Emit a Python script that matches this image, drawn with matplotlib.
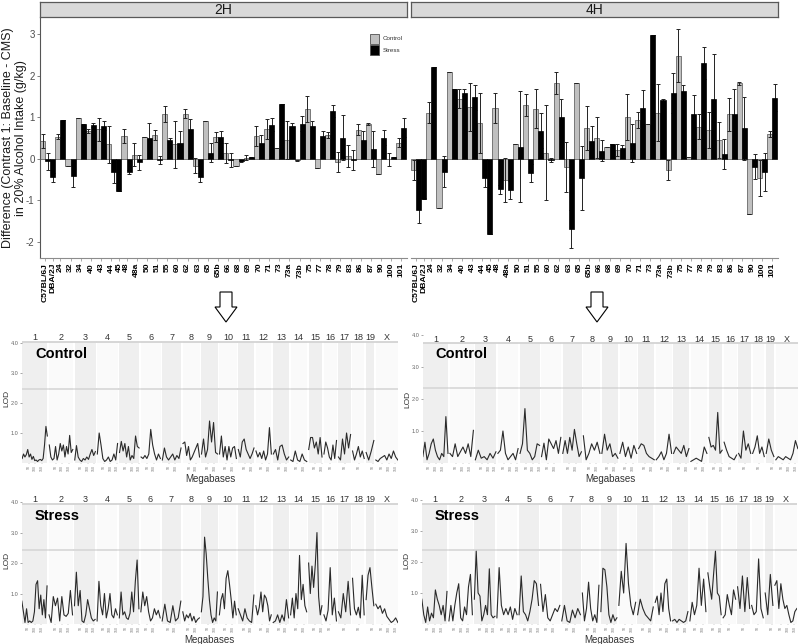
import numpy as np
import matplotlib
matplotlib.use('Agg')
import matplotlib.pyplot as plt
from matplotlib.patches import Rectangle, Polygon

plt.rcParams['font.family'] = ['Liberation Sans', 'DejaVu Sans']

W, H = 800, 644
nan = np.nan

# ---- top panel: contrast per strain ----
strains = ['C57BL/6J', 'DBA/2J', '24', '32', '34', '40', '43', '44', '45', '48', '48a',
           '50', '51', '55', '60', '62', '63', '65', '65b', '66', '68', '69', '70', '71',
           '73', '73a', '73b', '75', '77', '78', '79', '83', '86', '87', '90', '100', '101']

ctrl_2h = [0.43, nan, 0.53, -0.18, 0.97, 0.67, 0.71, 0.35, nan, 0.55, 0.10, 0.53, 0.57, 1.07,
           0.35, 1.09, -0.17, 0.90, 0.53, 0.13, -0.18, 0.03, 0.55, 0.72, 0.25, 0.46, -0.04,
           1.19, -0.22, 0.57, -0.08, 0.07, 0.70, 0.84, -0.36, -0.01, 0.39]
ctrl_2h_se = [0.17, nan, 0.06, 0, 0, 0.05, 0.28, 0.45, nan, 0.17, 0.28, 0, 0.13, 0.19, 0.57,
              0.10, 0.18, 0, 0.12, 0.24, 0, 0.07, 0.24, 0.24, 0, 0.46, 0.02, 0.31, 0, 0.07,
              0.24, 0.27, 0.13, 0.03, 0, 0.16, 0.10]
stress_2h = [-0.06, -0.45, 0.93, -0.42, 0.84, 0.81, 0.80, -0.33, -0.78, -0.31, -0.09, 0.50,
             -0.03, 0.46, 0.39, 0.72, -0.45, 0.15, 0.52, -0.02, -0.06, 0.04, 0.38, 0.82, 1.32,
             0.79, 0.84, 0.80, 0.56, 1.15, 0.51, -0.03, 0.44, 0.24, 0.51, 0.05, 0.75]
stress_2h_se = [0.21, 0.11, 0, 0.27, 0, 0.05, 0.11, 0.25, 0, 0.05, 0.17, 0.37, 0.10, 0.05,
                0.27, 0.24, 0.10, 0.23, 0.15, 0.17, 0.01, 0.01, 0.20, 0.15, 0, 0.07, 0.18,
                0.12, 0.10, 0.14, 0.54, 0.23, 0.24, 0.43, 0.19, 0.0, 0.23]

ctrl_4h = [-0.26, nan, 1.11, -1.19, 2.10, 1.45, 1.25, 0.87, nan, 1.23, -0.51, 0.35, 1.29, 1.21,
           0.15, 1.82, -0.19, 1.82, 0.75, 0.51, 0.29, 0.21, 1.01, 0.93, 0.84, 1.11, -0.27,
           2.48, 0.05, 0.77, 0.69, 0.45, 1.07, 1.82, -1.32, -0.47, 0.59]
ctrl_4h_se = [0.24, nan, 0.25, 0, 0, 0.22, 0.57, 0.72, nan, 0.36, 0.52, 0, 0.26, 0.48, 1.15,
              0.26, 0.6, 0, 0.53, 0.49, 0, 0.15, 0.56, 0.2, 0, 0.68, 0.25, 0.64, 0, 0.3,
              0.44, 0.43, 0.4, 0.04, 0, 0.43, 0.07]
stress_4h = [-1.24, -0.96, 2.22, -0.31, 1.67, 1.59, 1.48, -0.47, -1.81, -0.74, -0.76, 0.29,
             -0.34, 0.68, -0.03, 1.00, -1.70, -0.47, 0.43, 0.19, 0.35, 0.27, 0.37, 1.23, 2.97,
             1.41, 1.58, 1.62, 1.07, 2.30, 1.44, 0.11, 1.07, 0.73, -0.19, -0.31, 1.47]
stress_4h_se = [0.30, 0.02, 0, 0.38, 0, 0.08, 0.3, 0.21, 0, 0.12, 0.22, 1.34, 0.21, 0.43,
                0.05, 0.43, 0.46, 0.77, 0.36, 0.25, 0, 0.06, 0.46, 0.43, 0, 0.04, 0.48, 0.16,
                0.46, 0.39, 1.08, 0.36, 0.6, 0.75, 0.3, 0.46, 0.32]

y_ticks = [-2, -1, 0, 1, 2, 3]

# ---- bottom panels: genome scans ----
chroms = ['1', '2', '3', '4', '5', '6', '7', '8', '9', '10', '11', '12', '13', '14', '15',
          '16', '17', '18', '19', 'X']
chrom_mb = [195, 182, 160, 157, 152, 150, 145, 129, 125, 131, 122, 120, 120, 125, 104, 98,
            95, 91, 61, 171]

lod_ctrl_2h = [
    [0.15, 0.3, 0.2, 0.28, 0.45, 0.2, 0.3, 0.12, 0.22, 0.08, 0.1, 0.05, 0.1, 0.12, 0.08, 0.15, 0.6, 1.22, 0.9],
    [0.6, 0.2, 0.1, 0.15, 0.55, 0.1, 0.3, 0.65, 0.4, 0.6, 0.2, 0.55, 0.3, 0.92, 0.35, 0.45],
    [0.1, 0.58, 0.2, 0.1, 0.05, 0.15, 0.1, 0.2, 0.12, 0.3, 0.45, 0.25, 0.38],
    [0.3, 1.0, 0.6, 0.15, 0.05, 0.1, 0.2, 0.05, 0.1, 0.3, 0.1, 0.65],
    [0.35, 0.72, 0.4, 0.65, 0.2, 0.55, 0.1, 0.25, 0.15, 0.9, 0.55, 0.5],
    [0.2, 0.15, 0.25, 0.15, 0.3, 1.12, 0.6, 0.3, 0.1, 0.3, 0.15],
    [0.1, 0.5, 0.2, 0.1, 0.2, 0.3, 0.1, 0.25, 0.15, 0.5],
    [0.65, 0.7, 0.25, 0.55, 0.1, 0.2, 0.35, 0.5, 0.65, 0.2],
    [0.3, 0.8, 0.2, 0.45, 1.4, 0.7, 1.35, 0.35, 0.3],
    [0.3, 0.9, 0.2, 0.55, 0.1, 0.55, 0.2, 0.5, 0.55, 0.15],
    [0.45, 0.2, 0.7, 0.8, 0.45, 0.3, 0.15, 0.3, 0.5],
    [0.4, 0.2, 0.35, 0.15, 0.4, 0.1, 0.3, 1.18, 0.3],
    [0.3, 0.45, 0.1, 0.55, 0.6, 0.3, 0.1, 0.2],
    [0.1, 0.05, 0.4, 0.1, 0.05, 0.3, 0.1, 0.05],
    [0.45, 0.85, 0.85, 0.5, 0.7, 0.3, 0.85, 0.2],
    [0.3, 0.7, 0.5, 0.2, 0.1, 0.6, 0.15, 0.75],
    [0.2, 0.1, 0.8, 0.3, 1.0, 0.5, 0.95],
    [0.4, 0.1, 0.3, 0.55, 0.2, 0.4, 0.15],
    [0.35, 0.1, 0.4, 0.75],
    [0.1, 0.05, 0.15, 0.2, 0.25, 0.1, 0.3, 0.15, 0.4, 0.2, 0.1],
]
lod_ctrl_4h = [
    [0.2, 0.65, 0.1, 0.3, 0.6, 0.75, 0.4, 0.2, 0.1, 0.3, 0.2, 1.45, 0.3],
    [0.3, 0.2, 0.6, 0.2, 0.35, 0.5, 0.3, 0.6, 0.2, 1.02],
    [0.1, 0.4, 0.15, 0.2, 0.1, 0.3, 0.15, 0.35],
    [0.3, 0.4, 1.0, 0.3, 0.1, 0.2, 0.3, 0.1, 0.45],
    [0.3, 0.6, 1.7, 0.4, 0.3, 0.1, 0.2, 0.6, 0.55],
    [0.2, 0.62, 0.1, 0.75, 0.6, 0.45, 0.7, 0.3, 0.8],
    [0.3, 0.7, 0.3, 0.8, 0.4, 1.05, 0.6, 0.2, 0.35],
    [0.85, 0.1, 0.3, 0.6, 0.4, 0.65, 0.3],
    [0.3, 0.9, 0.4, 0.6, 0.2, 0.3, 0.15],
    [0.3, 0.65, 0.2, 0.5, 0.15, 0.55, 0.3],
    [0.45, 0.6, 0.55, 0.3, 0.2, 0.15, 0.1],
    [0.1, 0.2, 0.35, 0.1, 0.3, 0.9, 0.3],
    [0.3, 0.5, 0.4, 0.3, 0.55, 0.2, 0.45],
    [0.05, 0.1, 0.15, 0.1, 0.05, 0.5, 0.3],
    [0.8, 0.5, 0.55, 0.4, 1.58, 0.3, 0.4],
    [0.65, 0.4, 0.2, 0.15, 0.1, 0.25],
    [0.3, 0.15, 1.0, 0.4, 0.6, 0.3],
    [0.3, 0.5, 0.85, 0.3, 0.5, 0.2],
    [0.3, 0.75, 0.4, 0.2],
    [0.1, 0.2, 0.15, 0.1, 0.2, 0.15, 0.1, 0.3, 0.7, 0.45],
]
lod_stress_2h = [
    [0.75, 0.4, 0.05, 0.5, 0.05, 0.1, 0.05, 0.1, 0.4, 1.3, 1.42, 0.5, 0.95, 0.3, 0.8, 0.2, 1.25],
    [0.3, 0.05, 0.9, 0.6, 0.85, 0.1, 0.9, 0.3, 0.25, 0.35, 1.1, 0.3],
    [0.6, 1.7, 0.6, 1.1, 0.1, 0.05, 0.3, 0.8, 0.5, 0.2, 0.1, 0.15],
    [0.1, 1.4, 0.6, 0.3, 1.0, 0.2, 0.5, 1.0, 0.3, 0.2, 0.5, 0.3],
    [0.2, 1.05, 0.3, 0.4, 0.2, 0.15, 0.35, 1.05, 0.4, 1.4, 2.1, 0.5],
    [0.4, 1.05, 0.6, 0.9, 0.4, 0.1, 0.2, 0.5, 0.3, 0.45, 0.2],
    [0.1, 0.65, 0.1, 0.05, 0.6, 0.1, 0.2, 0.75],
    [0.4, 0.1, 0.3, 0.2, 0.35, 0.1, 0.25, 0.05, 0.15, 0.2],
    [0.4, 0.9, 2.85, 2.3, 1.5, 0.8, 0.3, 0.05, 0.2, 0.1, 1.05],
    [0.3, 0.8, 1.0, 0.5, 1.5, 1.75, 1.3, 0.8, 0.2, 0.75, 0.3],
    [0.5, 0.3, 0.1, 0.5, 0.2, 0.1, 0.05, 0.95],
    [0.6, 0.3, 0.55, 1.05, 0.4, 0.95, 0.85, 0.6, 0.1, 0.3],
    [0.05, 0.1, 0.3, 0.05, 0.3, 0.1, 0.8, 0.2],
    [0.3, 0.85, 0.2, 1.0, 0.5, 2.25, 0.8, 1.3, 0.6, 0.4],
    [2.0, 1.0, 1.9, 1.2, 1.95, 3.0, 0.9, 0.3, 0.6],
    [0.3, 0.1, 0.45, 1.85, 0.3, 0.85, 0.1],
    [0.4, 0.2, 1.0, 0.4, 1.4, 0.3],
    [1.5, 0.5, 0.3, 0.55, 0.2, 1.6, 0.3],
    [0.8, 1.6, 1.85, 1.2, 0.6],
    [0.65, 0.5, 0.6, 0.35, 0.5, 0.25, 0.15, 0.05, 0.1, 0.2, 0.05],
]
lod_stress_4h = [
    [0.8, 0.3, 0.05, 0.55, 0.1, 0.35, 0.2, 1.1, 0.8, 0.6, 0.3, 0.6, 0.1, 1.05],
    [0.1, 0.6, 0.1, 0.6, 1.0, 1.3, 0.2, 0.1, 0.55, 0.3, 1.2, 1.6, 0.3],
    [0.8, 2.35, 1.0, 0.9, 0.1, 0.3, 0.6, 0.3, 1.78, 0.3, 0.2, 0.25],
    [0.2, 1.82, 0.6, 0.3, 0.5, 0.3, 0.55, 0.15, 0.5, 0.3],
    [0.3, 1.55, 0.4, 0.3, 0.1, 0.4, 0.8, 1.4, 1.3, 0.6],
    [1.28, 0.4, 0.95, 0.2, 0.1, 0.3, 0.5, 0.4, 0.6],
    [0.1, 0.6, 0.1, 0.05, 0.45, 0.2, 0.5, 0.3],
    [1.0, 0.1, 0.5, 1.35, 0.5, 0.1, 0.3, 0.05, 1.25],
    [0.4, 1.8, 1.75, 1.2, 0.3, 0.05, 0.3, 0.1, 0.2],
    [0.6, 1.7, 1.0, 2.6, 1.3, 0.6, 0.3, 0.7],
    [0.3, 0.8, 0.5, 0.3, 0.2, 0.1, 0.55],
    [0.7, 0.9, 0.3, 1.0, 0.4, 1.3, 1.45, 0.5, 0.1],
    [0.1, 0.15, 0.05, 0.15, 0.1, 0.05, 0.1, 0.4],
    [0.1, 0.7, 0.3, 0.6, 1.8, 0.6, 1.45, 0.4],
    [1.65, 1.2, 0.8, 1.6, 2.35, 1.0, 0.9, 0.3],
    [0.2, 0.3, 0.95, 0.6, 0.3, 1.1, 0.8],
    [1.2, 0.5, 1.55, 0.4, 1.5, 0.5],
    [0.6, 0.3, 0.4, 2.1, 0.5, 0.2],
    [1.0, 0.3, 1.6, 0.6],
    [1.25, 1.4, 0.5, 1.3, 0.8, 0.5, 0.6, 0.3, 0.05, 0.1, 0.4, 0.5],
]
thresholds = [2.46, 2.35, 2.43, 2.40]

fig = plt.figure(figsize=(W / 100, H / 100), dpi=100)


def add_px(x0, y0, x1, y1):
    return fig.add_axes([x0 / W, 1 - y1 / H, (x1 - x0) / W, (y1 - y0) / H])


def bar_panel(x0, x1, title, ctrl, ctrl_se, stress, stress_se, first):
    ax = add_px(x0, 18, x1, 258)
    pc, vc, ec, ps, vs, es, pl = [], [], [], [], [], [], []
    slot = 0
    for i in range(len(strains)):
        if np.isnan(ctrl[i]):
            pl.append(slot)
        else:
            pc.append(slot); vc.append(ctrl[i]); ec.append(ctrl_se[i])
            pl.append(slot + 0.5)
            slot += 1
        ps.append(slot); vs.append(stress[i]); es.append(stress_se[i])
        slot += 1
    ax.bar(pc, vc, width=1.0, color='#c0c0c0', edgecolor='#505050', linewidth=0.5, zorder=2)
    ax.bar(ps, vs, width=1.0, color='black', edgecolor='black', linewidth=0.5, zorder=2)
    ax.errorbar(pc, vc, yerr=ec, fmt='none', ecolor='#222222', elinewidth=0.7,
                capsize=1.2, capthick=0.7, zorder=3)
    ax.errorbar(ps, vs, yerr=es, fmt='none', ecolor='#222222', elinewidth=0.7,
                capsize=1.2, capthick=0.7, zorder=1)
    ax.set_xlim(-0.6, slot - 0.4)
    ax.set_ylim(-2.39, 3.39)
    ax.set_xticks(pl)
    ax.set_xticklabels(strains, rotation=90, fontsize=6.1, fontweight='bold')
    ax.tick_params(axis='x', length=2, width=0.5, color='#888888', pad=1.5)
    for s in ['top', 'right']:
        ax.spines[s].set_visible(False)
    ax.spines['bottom'].set_color('#8c8c8c')
    ax.spines['bottom'].set_linewidth(0.8)
    if first:
        ax.set_yticks(y_ticks)
        ax.set_yticklabels([str(t) for t in y_ticks], fontsize=7, color='#4d4d4d')
        ax.tick_params(axis='y', length=2, width=0.5, color='#4d4d4d', pad=1.5)
        ax.spines['left'].set_color('#555555')
        ax.spines['left'].set_linewidth(0.8)
    else:
        ax.set_yticks([])
        ax.spines['left'].set_visible(False)
    st = add_px(x0, 2, x1, 17)
    st.set_facecolor('#d9d9d9')
    st.set_xticks([]); st.set_yticks([])
    for s in st.spines.values():
        s.set_color('#595959'); s.set_linewidth(0.9)
    st.text(0.5, 0.5, title, ha='center', va='center', fontsize=10, color='#1a1a1a',
            transform=st.transAxes)
    return ax


bar_panel(39.5, 407, '2H', ctrl_2h, ctrl_2h_se, stress_2h, stress_2h_se, True)
bar_panel(410.5, 778, '4H', ctrl_4h, ctrl_4h_se, stress_4h, stress_4h_se, False)

fig.text(14.5 / W, 1 - 138 / H, 'Difference (Contrast 1: Baseline - CMS)\nin 20% Alcohol Intake (g/kg)',
         rotation=90, ha='center', va='center', fontsize=9, linespacing=1.05, color='#1a1a1a')

# legend
for k, (lab, fc) in enumerate([('Control', '#c0c0c0'), ('Stress', 'black')]):
    yy = 34 + 11 * k
    fig.add_artist(Rectangle((370 / W, 1 - (yy + 10) / H), 9 / W, 10 / H, facecolor=fc,
                             edgecolor='#505050', linewidth=0.6, transform=fig.transFigure))
    fig.text(383 / W, 1 - (yy + 5) / H, lab, fontsize=4.5, va='center', ha='left', color='#333333')

# arrows
for cx in [226, 597]:
    pts = [(cx - 6, 292), (cx + 6, 292), (cx + 6, 307), (cx + 11, 307), (cx, 322),
           (cx - 11, 307), (cx - 6, 307)]
    fig.add_artist(Polygon([(x / W, 1 - y / H) for x, y in pts], closed=True, facecolor='white',
                           edgecolor='black', linewidth=0.8, transform=fig.transFigure))

gap = 13
offsets = np.concatenate([[0], np.cumsum(np.array(chrom_mb) + gap)[:-1]])
total = offsets[-1] + chrom_mb[-1]


def lod_panel(x0, x1, ytop, yzero, ymax, lod, thr, name, name_y, mb_y):
    ax = add_px(x0, ytop, x1, yzero)
    ax.set_xlim(0, total)
    ax.set_ylim(0, ymax)
    ppu = (yzero - ytop) / ymax
    sh = 8 / ppu
    tick_pos, tick_lab = [], []
    for k, (c, L) in enumerate(zip(chroms, chrom_mb)):
        off = offsets[k]
        ax.add_patch(Rectangle((off, 0), L, ymax - sh, facecolor='#efefef' if k % 2 == 0 else '#fafafa',
                               linewidth=0, zorder=0))
        ax.add_patch(Rectangle((off, ymax - sh), L, sh, facecolor='white', linewidth=0, zorder=1))
        ax.text(off + L / 2, ymax - sh / 2, c, ha='center', va='center', fontsize=6.5,
                color='#333333', zorder=2)
        ax.plot([off, off + L], [ymax - sh] * 2, color='#d6d6d6', linewidth=1.4, zorder=1)
        ax.plot([off, off + L], [thr] * 2, color='#d6d6d6', linewidth=1.2, zorder=1)
        vals = lod[k]
        xs = np.linspace(off + 1, off + L - 1, len(vals))
        ax.plot(xs, vals, color='#2a2a2a', linewidth=0.8, zorder=3)
        for m in range(50, L, 50):
            tick_pos.append(off + m)
            tick_lab.append(str(m))
    ax.set_xticks(tick_pos)
    ax.set_xticklabels(tick_lab, fontsize=2.5, rotation=90, color='#777777')
    ax.tick_params(axis='x', length=1, width=0.3, color='#999999', pad=0.5)
    ax.set_yticks([1, 2, 3, 4])
    ax.set_yticklabels(['1.0', '2.0', '3.0', '4.0'], fontsize=4, color='#666666')
    ax.tick_params(axis='y', length=1.5, width=0.4, color='#666666', pad=1)
    for s in ax.spines.values():
        s.set_visible(False)
    fig.text((x0 - 15) / W, 1 - ((ytop + yzero) / 2) / H, 'LOD', rotation=90, fontsize=6,
             ha='center', va='center', color='#333333')
    fig.text((x0 + x1) / 2 / W, 1 - mb_y / H, 'Megabases', fontsize=7, ha='center',
             va='center', color='#333333')
    fig.text((x0 + 13) / W, 1 - name_y / H, name, fontsize=10.5, fontweight='bold',
             ha='left', va='center', color='black')


lod_panel(22, 398, 334, 463, 4.3, lod_ctrl_2h, thresholds[0], 'Control', 354, 479)
lod_panel(422.7, 798, 335, 463, 4.0, lod_ctrl_4h, thresholds[1], 'Control', 354, 479)
lod_panel(21.7, 398, 496, 624, 4.2, lod_stress_2h, thresholds[2], 'Stress', 516, 640)
lod_panel(421.7, 797, 496, 624, 4.13, lod_stress_4h, thresholds[3], 'Stress', 516, 640)

fig.savefig('out.png', dpi=100)
